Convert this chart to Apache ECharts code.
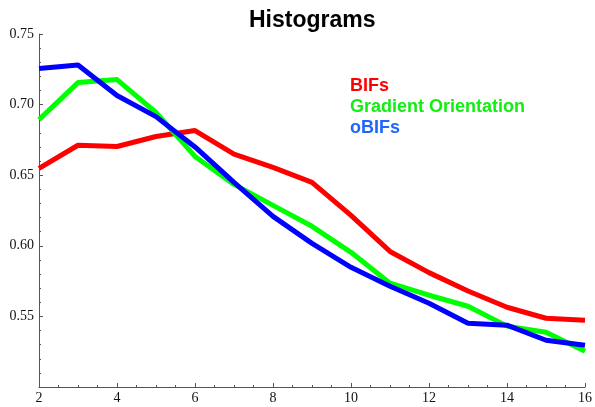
<!DOCTYPE html>
<html>
<head>
<meta charset="utf-8">
<script src="https://cdn.jsdelivr.net/npm/echarts@6/dist/echarts.min.js"></script>
<style>html,body{margin:0;padding:0;background:#fff;}#c{width:595px;height:407px;}</style>
</head>
<body>
<div id="c"></div>
<script>
var xValues = [2, 3, 4, 5, 6, 7, 8, 9, 10, 11, 12, 13, 14, 15, 16];
var bifs = [0.6548, 0.6712, 0.6703, 0.6774, 0.6816, 0.6650, 0.6555, 0.6449, 0.6215, 0.5960, 0.5810, 0.5680, 0.5565, 0.5487, 0.5473];
var gradientOrientation = [0.6894, 0.7156, 0.7177, 0.6944, 0.6633, 0.6435, 0.6286, 0.6138, 0.5954, 0.5735, 0.5650, 0.5572, 0.5431, 0.5388, 0.5254];
var obifs = [0.7255, 0.7280, 0.7064, 0.6915, 0.6700, 0.6449, 0.6208, 0.6017, 0.5848, 0.5713, 0.5593, 0.5452, 0.5438, 0.5331, 0.5296];
var seriesNames = ['BIFs', 'Gradient Orientation', 'oBIFs'];

function pairs(arr) { return xValues.map(function (x, i) { return [x, arr[i]]; }); }

var chart = echarts.init(document.getElementById('c'), null, {renderer: 'canvas'});
var axisColor = '#555';
chart.setOption({
  animation: false,
  backgroundColor: '#fff',
  title: {
    text: 'Histograms',
    left: 244, top: 4,
    textStyle: {fontFamily: 'Liberation Sans, Arial, sans-serif', fontWeight: 'bold', fontSize: 23, color: '#000'}
  },
  legend: {
    orient: 'vertical', left: 340, top: 72, icon: 'none', itemWidth: 0, itemHeight: 18, itemGap: 3,
    selectedMode: false,
    textStyle: {fontFamily: 'Liberation Sans, Arial, sans-serif', fontWeight: 'bold', fontSize: 18},
    data: [
      {name: seriesNames[0], textStyle: {color: '#ff0000'}},
      {name: seriesNames[1], textStyle: {color: '#11ee11'}},
      {name: seriesNames[2], textStyle: {color: '#1f66ff'}}
    ]
  },
  grid: {left: 39, right: 7, top: 34, bottom: 20, containLabel: false},
  xAxis: {
    type: 'value', min: 2, max: 16, interval: 2,
    axisLine: {show: true, lineStyle: {color: axisColor, width: 1}},
    axisTick: {show: true, inside: true, length: 4, lineStyle: {color: axisColor}},
    minorTick: {show: true, splitNumber: 4, length: 2, lineStyle: {color: axisColor}},
    splitLine: {show: false},
    axisLabel: {fontFamily: 'Liberation Serif, Times New Roman, serif', fontSize: 14, color: '#111', margin: 4}
  },
  yAxis: {
    type: 'value', min: 0.5, max: 0.75, interval: 0.05,
    axisLine: {show: true, lineStyle: {color: axisColor, width: 1}},
    axisTick: {show: true, inside: true, length: 4, lineStyle: {color: axisColor}},
    minorTick: {show: true, splitNumber: 5, length: 2, lineStyle: {color: axisColor}},
    splitLine: {show: false},
    axisLabel: {
      fontFamily: 'Liberation Serif, Times New Roman, serif', fontSize: 14, color: '#111', margin: 5,
      formatter: function (v) { return Math.abs(v - 0.5) < 1e-9 ? '' : v.toFixed(2); }
    }
  },
  series: [
    {name: seriesNames[0], type: 'line', data: pairs(bifs), showSymbol: false, symbol: 'none', lineStyle: {color: '#ff0000', width: 5}, itemStyle: {color: '#ff0000'}},
    {name: seriesNames[1], type: 'line', data: pairs(gradientOrientation), showSymbol: false, symbol: 'none', lineStyle: {color: '#00ff00', width: 5}, itemStyle: {color: '#00ff00'}},
    {name: seriesNames[2], type: 'line', data: pairs(obifs), showSymbol: false, symbol: 'none', lineStyle: {color: '#0000ff', width: 5}, itemStyle: {color: '#0000ff'}}
  ]
});
</script>
</body>
</html>
